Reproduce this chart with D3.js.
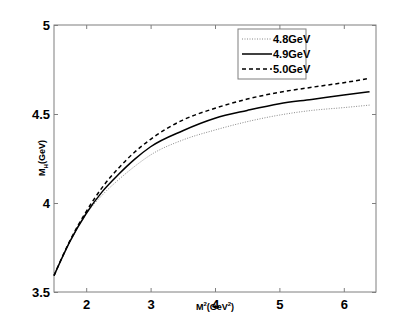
<!DOCTYPE html>
<html><head><meta charset="utf-8">
<script src="https://cdn.jsdelivr.net/npm/d3@7"></script>
<style>body{margin:0;background:#fff}svg{display:block}text{font-family:"Liberation Sans",Arial,sans-serif}</style>
</head><body><svg id="c" width="415" height="328"></svg>
<script>
const xValues = [1.5, 1.75, 2, 2.25, 2.5, 2.75, 3, 3.5, 4, 4.5, 5, 5.5, 6, 6.4];
const series48 = [3.592, 3.782, 3.937, 4.045, 4.13, 4.205, 4.27, 4.354, 4.41, 4.457, 4.494, 4.52, 4.536, 4.55];
const series49 = [3.592, 3.786, 3.941, 4.064, 4.16, 4.245, 4.316, 4.406, 4.476, 4.52, 4.558, 4.582, 4.607, 4.625];
const series50 = [3.592, 3.79, 3.952, 4.088, 4.195, 4.285, 4.358, 4.466, 4.532, 4.584, 4.622, 4.65, 4.676, 4.70];
const seriesNames = ["4.8GeV", "4.9GeV", "5.0GeV"];
const xTicks = [2, 3, 4, 5, 6];
const yTicks = [3.5, 4, 4.5, 5];

const svg = d3.select("#c");
const L = 54, R = 376, T = 25, B = 292;
const x = d3.scaleLinear().domain([1.5, 6.5]).range([L, R]);
const y = d3.scaleLinear().domain([3.5, 5]).range([B, T]);
const axisColor = "#7f7f7f";

svg.append("rect").attr("x", L).attr("y", T).attr("width", R - L).attr("height", B - T)
  .attr("fill", "none").attr("stroke", axisColor).attr("stroke-width", 1);

function styleAxis(g) {
  g.select(".domain").remove();
  g.selectAll("line").attr("stroke", axisColor);
  g.selectAll("text").attr("fill", "#000").attr("font-size", 13).attr("font-weight", "bold");
}
svg.append("g").attr("transform", `translate(0,${B})`)
  .call(d3.axisBottom(x).tickValues(xTicks).tickFormat(d3.format("d")).tickSizeInner(-4).tickPadding(8)).call(styleAxis);
svg.append("g").attr("transform", `translate(0,${T})`)
  .call(d3.axisTop(x).tickValues(xTicks).tickFormat("").tickSizeInner(-4)).call(styleAxis);
svg.append("g").attr("transform", `translate(${L},0)`)
  .call(d3.axisLeft(y).tickValues(yTicks).tickFormat(d => d === 4 || d === 5 ? String(d) : d3.format(".1f")(d)).tickSizeInner(-4).tickPadding(4)).call(styleAxis);
svg.append("g").attr("transform", `translate(${R},0)`)
  .call(d3.axisRight(y).tickValues(yTicks).tickFormat("").tickSizeInner(-4)).call(styleAxis);

const line = d3.line().x((d, i) => x(xValues[i])).y(d => y(d)).curve(d3.curveMonotoneX);
const styles = [
  {data: series48, dash: "1,1.5", width: 1, color: "#888"},
  {data: series49, dash: null, width: 1.5, color: "#000"},
  {data: series50, dash: "4,3", width: 1.5, color: "#000"}
];
styles.forEach(s => {
  svg.append("path").attr("d", line(s.data)).attr("fill", "none")
    .attr("stroke", s.color).attr("stroke-width", s.width)
    .attr("stroke-dasharray", s.dash);
});

const lg = svg.append("g");
lg.append("rect").attr("x", 238).attr("y", 29).attr("width", 68).attr("height", 50)
  .attr("fill", "#fff").attr("stroke", axisColor).attr("stroke-width", 1);
seriesNames.forEach((n, i) => {
  const yy = 39 + i * 15;
  const s = styles[i];
  lg.append("line").attr("x1", 242).attr("x2", 272).attr("y1", yy).attr("y2", yy)
    .attr("stroke", s.color).attr("stroke-width", s.width).attr("stroke-dasharray", s.dash);
  lg.append("text").attr("x", 273).attr("y", yy + 4).attr("font-size", 11).attr("font-weight", "bold").text(n);
});

const xl = svg.append("text").attr("x", 215).attr("y", 310).attr("text-anchor", "middle")
  .attr("font-size", 9).attr("font-weight", "bold");
xl.append("tspan").text("M");
xl.append("tspan").attr("font-size", 6).attr("dy", -4).text("2");
xl.append("tspan").attr("dy", 4).text("(GeV");
xl.append("tspan").attr("font-size", 6).attr("dy", -4).text("2");
xl.append("tspan").attr("dy", 4).text(")");

const yl = svg.append("text").attr("transform", "translate(45,158) rotate(-90)").attr("text-anchor", "middle")
  .attr("font-size", 9).attr("font-weight", "bold");
yl.append("tspan").text("M");
yl.append("tspan").attr("font-size", 6).attr("dy", 3).text("H");
yl.append("tspan").attr("dy", -3).text("(GeV)");
</script></body></html>
